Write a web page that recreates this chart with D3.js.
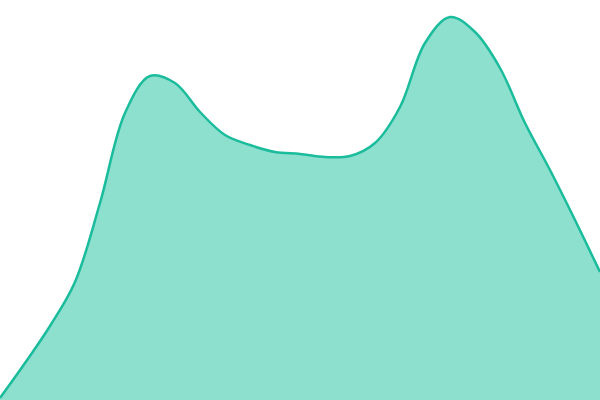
<!DOCTYPE html>
<html>
<head>
<meta charset="utf-8">
<script src="https://d3js.org/d3.v7.min.js"></script>
<style>
  body { margin: 0; background: #fff; }
  svg { display: block; }
</style>
</head>
<body>
<div id="chart"></div>
<script>
// values, one every 25px step
var steps = d3.range(0, 25);
var values = [2, 37, 74, 118, 197, 287, 324, 317, 288, 265, 255, 248, 246,
              243, 244, 257, 293, 357, 383, 368, 332, 277, 230, 180, 128];

var width = 600, height = 400;

var svg = d3.select("#chart")
  .append("svg")
  .attr("width", width)
  .attr("height", height);

var x = d3.scaleLinear()
  .domain([0, steps.length - 1])
  .range([0, width]);

var y = d3.scaleLinear()
  .domain([0, 400])
  .range([height, 0]);

var area = d3.area()
  .x(function(d, i) { return x(steps[i]); })
  .y0(y(0))
  .y1(function(d) { return y(d); })
  .curve(d3.curveCatmullRom);

var line = d3.line()
  .x(function(d, i) { return x(steps[i]); })
  .y(function(d) { return y(d); })
  .curve(d3.curveCatmullRom);

svg.append("path")
  .datum(values)
  .attr("d", area)
  .style("fill", "#8ddfce");

svg.append("path")
  .datum(values)
  .attr("d", line)
  .style("fill", "none")
  .style("stroke", "#1abc9c")
  .style("stroke-width", 2.5);
</script>
</body>
</html>
